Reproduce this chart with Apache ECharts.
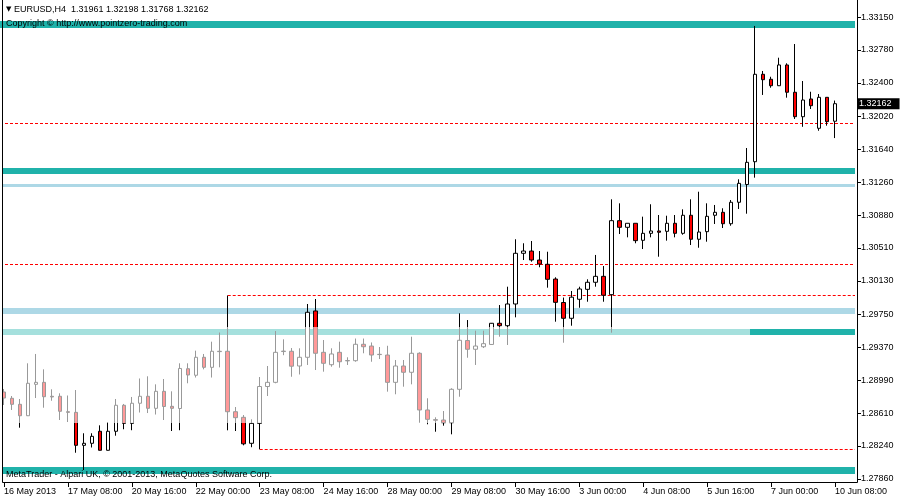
<!DOCTYPE html>
<html><head><meta charset="utf-8">
<script src="https://cdn.jsdelivr.net/npm/echarts@6/dist/echarts.min.js"></script>
<style>html,body{margin:0;padding:0;background:#fff}#c{width:900px;height:500px}</style>
</head><body><div id="c"></div>
<script>
// ---- data ----
const symbolName = 'EURUSD,H4';
const days = ['16 May','17 May','20 May','21 May','22 May','23 May','24 May','27 May','28 May','29 May','30 May','31 May','3 Jun','4 Jun','5 Jun','6 Jun','7 Jun','10 Jun'];
const hours = ['00:00','04:00','08:00','12:00','16:00','20:00'];
const barCount = 105;
const xTickLabels = ['16 May 2013','17 May 08:00','20 May 16:00','22 May 00:00','23 May 08:00','24 May 16:00','28 May 00:00','29 May 08:00','30 May 16:00','3 Jun 00:00','4 Jun 08:00','5 Jun 16:00','7 Jun 00:00','10 Jun 08:00'];
const yTickLabels = [1.27860,1.28240,1.28610,1.28990,1.29370,1.29750,1.30130,1.30510,1.30880,1.31260,1.31640,1.32020,1.32400,1.32780,1.33150];

const opens = [1.28857,1.28785,1.28716,1.28585,1.28945,1.28968,1.28808,1.28808,1.28631,1.28624,
1.28246,1.28269,1.28407,1.28189,1.28407,1.28705,1.28498,1.28728,1.28808,1.28670,
1.28865,1.28693,1.28668,1.29124,1.29049,1.29255,1.29140,1.29324,1.29324,1.28631,
1.28567,1.28269,1.28498,1.28920,1.28968,1.29321,1.29324,1.29155,1.29255,1.29786,
1.29312,1.29170,1.29312,1.29218,1.29216,1.29404,1.29384,1.29289,1.29281,1.28968,
1.29155,1.29083,1.29301,1.28651,1.28540,1.28536,1.28505,1.28888,1.29447,1.29347,
1.29376,1.29402,1.29645,1.29617,1.29866,1.30447,1.30473,1.30370,1.30321,1.30152,
1.29883,1.29702,1.29920,1.30034,1.30115,1.30183,1.29973,1.30821,1.30745,1.30791,
1.30596,1.30676,1.30703,1.30699,1.30791,1.30676,1.30883,1.30608,1.30695,1.30883,
1.30917,1.30786,1.31032,1.31236,1.31497,1.32499,1.32442,1.32368,1.32606,1.32293,
1.32013,1.32216,1.31880,1.32235,1.31961];
const highs = [1.28892,1.28811,1.28777,1.29186,1.29293,1.29117,1.28888,1.28842,1.28817,1.28880,
1.28384,1.28384,1.28475,1.28513,1.28777,1.28720,1.28800,1.29012,1.29037,1.28945,
1.29006,1.28865,1.29186,1.29186,1.29331,1.29293,1.29434,1.29539,1.29963,1.28685,
1.28593,1.28544,1.29029,1.29155,1.29556,1.29461,1.29361,1.29358,1.29866,1.29923,
1.29453,1.29358,1.29434,1.29255,1.29470,1.29470,1.29425,1.29373,1.29387,1.29224,
1.29224,1.29491,1.29312,1.28785,1.28567,1.28639,1.28900,1.29759,1.29682,1.29560,
1.29560,1.29648,1.29854,1.30064,1.30608,1.30562,1.30588,1.30473,1.30465,1.30172,
1.29940,1.30015,1.30064,1.30149,1.30428,1.30301,1.31066,1.31020,1.30791,1.30791,
1.30867,1.31009,1.30886,1.30878,1.30886,1.30951,1.31066,1.31153,1.31020,1.31001,
1.30963,1.31058,1.31295,1.31654,1.33053,1.32537,1.32471,1.32689,1.32625,1.32846,
1.32422,1.32299,1.32273,1.32235,1.32198];
const lows = [1.28708,1.28651,1.28448,1.28582,1.28788,1.28677,1.28757,1.28536,1.28513,1.28161,
1.27963,1.28221,1.28187,1.28187,1.28356,1.28430,1.28419,1.28622,1.28616,1.28599,
1.28536,1.28410,1.28419,1.28957,1.29023,1.29117,1.29023,1.29140,1.28418,1.28410,
1.28246,1.28224,1.28201,1.28811,1.28957,1.29279,1.29032,1.29058,1.29167,1.29109,
1.29090,1.29147,1.29136,1.29167,1.29204,1.29301,1.29204,1.29235,1.28861,1.28831,
1.28918,1.28945,1.28505,1.28487,1.28402,1.28471,1.28372,1.28803,1.29250,1.29167,
1.29361,1.29396,1.29491,1.29396,1.29713,1.30370,1.30351,1.30287,1.30053,1.29663,
1.29422,1.29617,1.29823,1.29892,1.30064,1.29892,1.29537,1.30668,1.30630,1.30562,
1.30496,1.30630,1.30408,1.30592,1.30630,1.30660,1.30542,1.30511,1.30580,1.30783,
1.30737,1.30763,1.30955,1.30901,1.31314,1.32262,1.32345,1.32365,1.32231,1.31987,
1.31897,1.32101,1.31852,1.31910,1.31768];
const closes = [1.28788,1.28716,1.28585,1.28957,1.28968,1.28803,1.28800,1.28636,1.28624,1.28246,
1.28269,1.28349,1.28189,1.28407,1.28705,1.28498,1.28728,1.28808,1.28670,1.28865,
1.28691,1.28670,1.29127,1.29052,1.29255,1.29140,1.29324,1.29320,1.28631,1.28563,
1.28263,1.28498,1.28920,1.28968,1.29312,1.29326,1.29153,1.29255,1.29771,1.29301,
1.29186,1.29293,1.29204,1.29214,1.29404,1.29376,1.29281,1.29286,1.28968,1.29155,
1.29083,1.29301,1.28651,1.28544,1.28534,1.28505,1.28888,1.29450,1.29347,1.29384,
1.29411,1.29645,1.29617,1.29866,1.30447,1.30473,1.30370,1.30324,1.30149,1.29885,
1.29702,1.29944,1.30038,1.30115,1.30183,1.29966,1.30821,1.30745,1.30791,1.30592,
1.30676,1.30703,1.30688,1.30791,1.30676,1.30883,1.30608,1.30691,1.30871,1.30917,
1.30786,1.31032,1.31249,1.31490,1.32499,1.32437,1.32368,1.32606,1.32293,1.32013,
1.32204,1.32139,1.32235,1.31956,1.32162];

// horizontal levels drawn on the chart
const tealLevels = [1.33070, 1.31388, 1.29545, 1.27960];
const blueLevels = [1.31227, 1.29783];
const dashedLevels = [1.31935, 1.30321];
const dashedRays = [[28, 1.29963], [32, 1.28201]];   // [start bar index, price]

// ---- build ----
const categories = [];
for (const d of days) for (const h of hours) if (categories.length < barCount) categories.push(d + ' ' + h);
categories.push('', '');
const candles = opens.map((o, i) => [o, closes[i], lows[i], highs[i]]);
const last = opens.length - 1;
const FONT = '"Liberation Sans", Arial, sans-serif';
const bandWidth = {teal: [7, 6, 6, 7], blue: [3, 6]};
const DASH = [3, 2];

function buildMarks(rayItems) {
  const marks = [];
  tealLevels.forEach((v, k) => marks.push({yAxis: v, lineStyle: {color: '#20B2AA', width: bandWidth.teal[k], type: 'solid'}}));
  blueLevels.forEach((v, k) => marks.push({yAxis: v, lineStyle: {color: '#ADD8E6', width: bandWidth.blue[k], type: 'solid'}}));
  dashedLevels.forEach(v => marks.push({yAxis: v, lineStyle: {color: '#FF0000', width: 1, type: DASH}}));
  rayItems.forEach(r => marks.push(r));
  marks.push({yAxis: closes[last], lineStyle: {width: 0, color: 'rgba(0,0,0,0)'},
    label: {show: true, position: 'end', distance: 2,
      formatter: closes[last].toFixed(5), backgroundColor: '#000', color: '#fff', fontFamily: FONT, fontSize: 9,
      lineHeight: 10, padding: [1, 8, 0, 2]}});
  return marks;
}

const fmt = v => v.toFixed(5);
const chart = echarts.init(document.getElementById('c'), null, {renderer: 'canvas'});
chart.setOption({
  animation: false,
  backgroundColor: '#fff',
  textStyle: {fontFamily: FONT},
  grid: {left: -1, width: 856, top: 2, bottom: 17, containLabel: false},
  title: [
    {text: '{t|▼} ' + symbolName + '  ' + [opens[last], highs[last], lows[last], closes[last]].map(fmt).join(' '),
     left: 6, top: 5, padding: 0,
     textStyle: {fontFamily: FONT, fontSize: 9, fontWeight: 'normal', color: '#000',
       rich: {t: {fontSize: 7, fontFamily: 'DejaVu Sans', color: '#000'}}}},
    {text: 'Copyright © http://www.pointzero-trading.com', left: 6, top: 19, padding: 0,
     textStyle: {fontFamily: FONT, fontSize: 9, fontWeight: 'normal', color: '#000'}},
    {text: 'MetaTrader - Alpari UK, © 2001-2013, MetaQuotes Software Corp.', left: 6, top: 470, padding: 0,
     textStyle: {fontFamily: FONT, fontSize: 9, fontWeight: 'normal', color: '#000'}}
  ],
  xAxis: {
    type: 'category', data: categories, boundaryGap: true,
    axisLine: {show: false},
    axisTick: {show: true, alignWithLabel: true, interval: 7, length: 4, lineStyle: {color: '#000'}},
    axisLabel: {interval: 7, align: 'left', margin: 4, fontSize: 9, color: '#000', fontFamily: FONT,
      formatter: (v, i) => xTickLabels[i / 8] || ''},
    splitLine: {show: false}
  },
  yAxis: {
    type: 'value', position: 'right', offset: 2,
    min: 1.27814, max: 1.333277,
    axisLine: {show: false},
    axisTick: {show: true, length: 4, lineStyle: {color: '#000'}, customValues: yTickLabels},
    axisLabel: {customValues: yTickLabels, formatter: fmt, margin: 4, fontSize: 9, color: '#000', fontFamily: FONT},
    splitLine: {show: false}
  },
  series: [
    {type: 'line', data: [], z: 1, silent: true,
     markLine: {silent: true, precision: 6, symbol: ['none', 'none'], animation: false, label: {show: false}, data: buildMarks([])}},
    {type: 'candlestick', z: 5, data: candles, barWidth: 4, silent: true,
     itemStyle: {color: '#ffffff', color0: '#ff0000', borderColor: '#000', borderColor0: '#000',
       borderColorDoji: '#000', borderWidth: 1}}
  ],
  graphic: [
    {type: 'rect', z: 100, silent: true, shape: {x: 0, y: 327, width: 750, height: 96},
     style: {fill: 'rgba(255,255,255,0.6)'}},
    {type: 'rect', z: 101, silent: true, shape: {x: 0, y: 30, width: 2, height: 453}, style: {fill: '#fff'}},
    {type: 'polyline', z: 102, silent: true,
     shape: {points: [[2.5, 0], [2.5, 482.5], [857.5, 482.5], [857.5, 0]]},
     style: {stroke: '#000', lineWidth: 1, fill: null}}
  ]
});

// rays: start at a bar's price, run to the right edge of the plot (positions via the chart's own scales)
const rightEdge = chart.convertToPixel({gridIndex: 0}, [categories.length - 1, yTickLabels[0]])[0] + 4;
const rays = dashedRays.map(([i, v]) => {
  const p = chart.convertToPixel({gridIndex: 0}, [i, v]);
  return [{x: p[0], y: p[1], lineStyle: {color: '#FF0000', width: 1, type: DASH}}, {x: rightEdge, y: p[1]}];
});
chart.setOption({series: [{markLine: {data: buildMarks(rays)}}, {}]});
</script>
</body></html>
